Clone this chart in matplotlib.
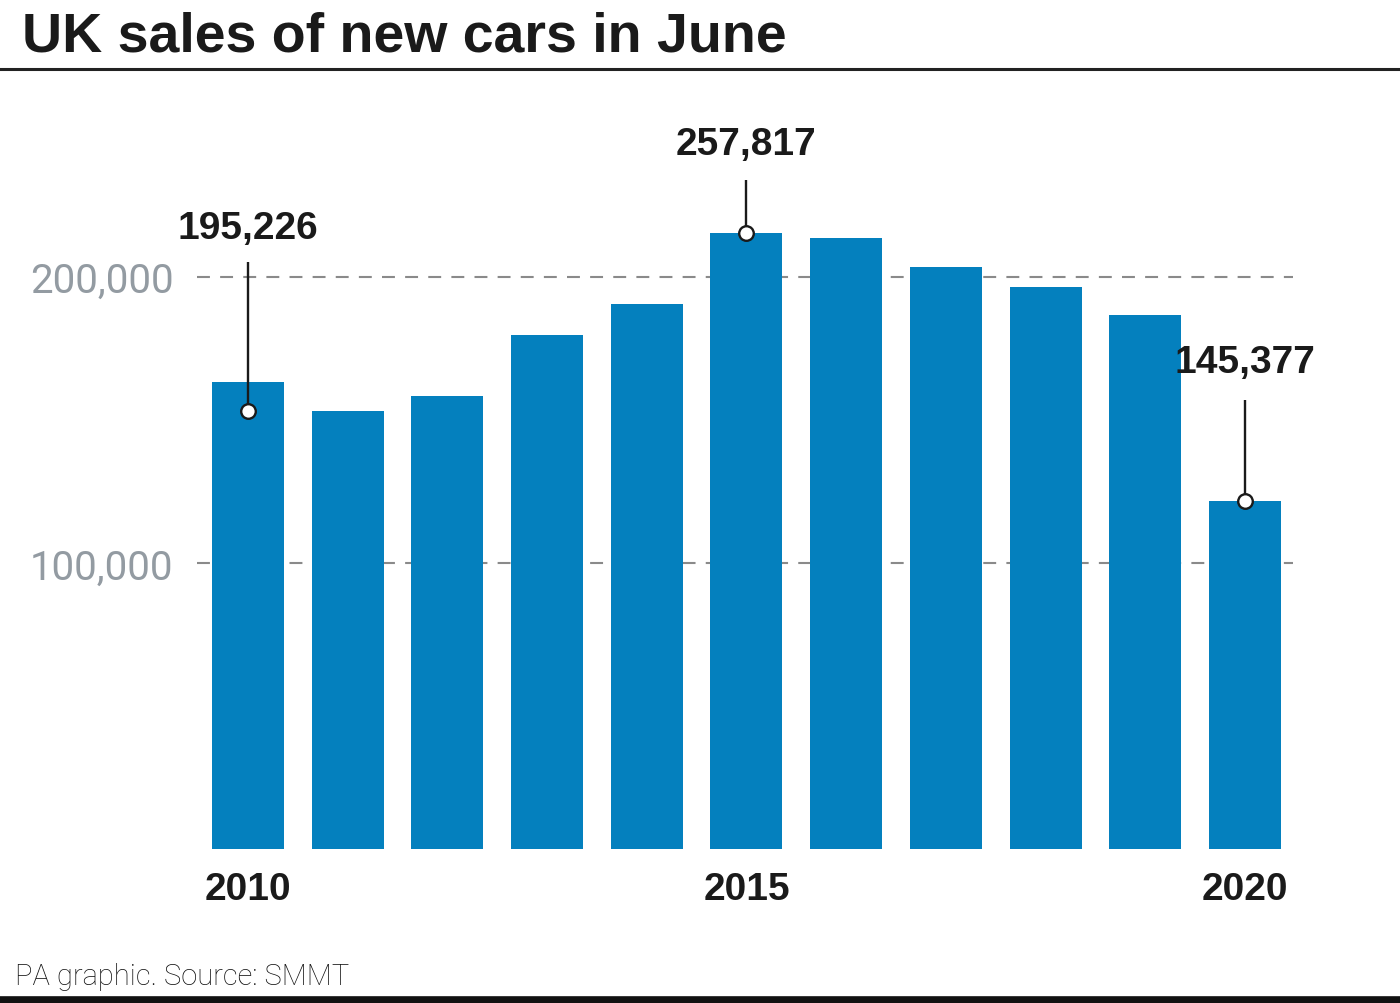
import matplotlib
matplotlib.use("Agg")
import matplotlib.pyplot as plt
from matplotlib.lines import Line2D

# ---- data ----
years = [2010, 2011, 2012, 2013, 2014, 2015, 2016, 2017, 2018, 2019, 2020]
sales = [195226, 183000, 189300, 214900, 228200, 257817, 255850, 243400, 235000, 223300, 145377]
year_labels = ["2010", "2015", "2020"]
year_label_years = [2010, 2015, 2020]
grid_values = [119500, 239500]
grid_labels = ["100,000", "200,000"]
annot_years = [2010, 2015, 2020]
annot_texts = ["195,226", "257,817", "145,377"]
annot_marker_values = [183000, 257817, 145377]

# ---- layout constants (not data) ----
annot_label_y = [260000, 294800, 203900]
annot_line_top = [245800, 280100, 188000]

W, H = 1400, 1004
fig = plt.figure(figsize=(W / 100, H / 100), dpi=100)
fig.patch.set_facecolor("white")

ax = fig.add_axes([197 / W, 154.5 / H, 1096 / W, 300000 * 0.0023881 / H])
xpos = list(range(len(years)))
bar_color = "#0480be"
ax.bar(xpos, sales, width=0.722, color=bar_color, zorder=2)
ax.set_xlim(-0.51, 10.48)
ax.set_ylim(0, 300000)

for g in grid_values:
    ax.axhline(g, color="#8a8a8a", lw=1.5, linestyle=(0, (6.2, 4.9)), zorder=1)

for s in ax.spines.values():
    s.set_visible(False)

ax.set_yticks(grid_values)
ax.set_yticklabels(grid_labels, fontsize=29, color="#939ba2",
                   fontfamily="Roboto", fontweight="normal")
ax.tick_params(axis="y", length=0, pad=17)

ax.set_xticks([years.index(y) for y in year_label_years])
ax.set_xticklabels(year_labels, fontsize=28, fontweight="bold",
                   fontfamily="Liberation Sans", color="#1a1a1a")
ax.tick_params(axis="x", length=0, pad=16)

for yr, txt, mv, ly, lt in zip(annot_years, annot_texts, annot_marker_values,
                               annot_label_y, annot_line_top):
    i = years.index(yr)
    ax.plot([i, i], [mv, lt], color="#1a1a1a", lw=1.7, zorder=3, solid_capstyle="butt")
    ax.plot([i], [mv], marker="o", markersize=10.5, markerfacecolor="white",
            markeredgecolor="#1a1a1a", markeredgewidth=1.7, zorder=4)
    ax.text(i, ly, txt, ha="center", va="center", fontsize=28, fontweight="bold",
            fontfamily="Liberation Sans", color="#1a1a1a", zorder=5)

# title
fig.text(22 / W, 1 - 52 / H, "UK sales of new cars in June", ha="left", va="baseline",
         fontsize=40, fontweight="bold", fontfamily="Liberation Sans", color="#1a1a1a")
fig.add_artist(Line2D([0, 1], [1 - 70 / H, 1 - 70 / H], color="#222222", lw=2.2))

# footer
fig.text(15 / W, 1 - 985 / H, "PA graphic. Source: SMMT", ha="left", va="baseline",
         fontsize=21, fontfamily="Roboto", fontweight="light", color="#111111")
fig.add_artist(Line2D([0, 1], [1 - 1001 / H, 1 - 1001 / H], color="#111111", lw=5.5))

fig.savefig("out.png", dpi=100, facecolor="white")
